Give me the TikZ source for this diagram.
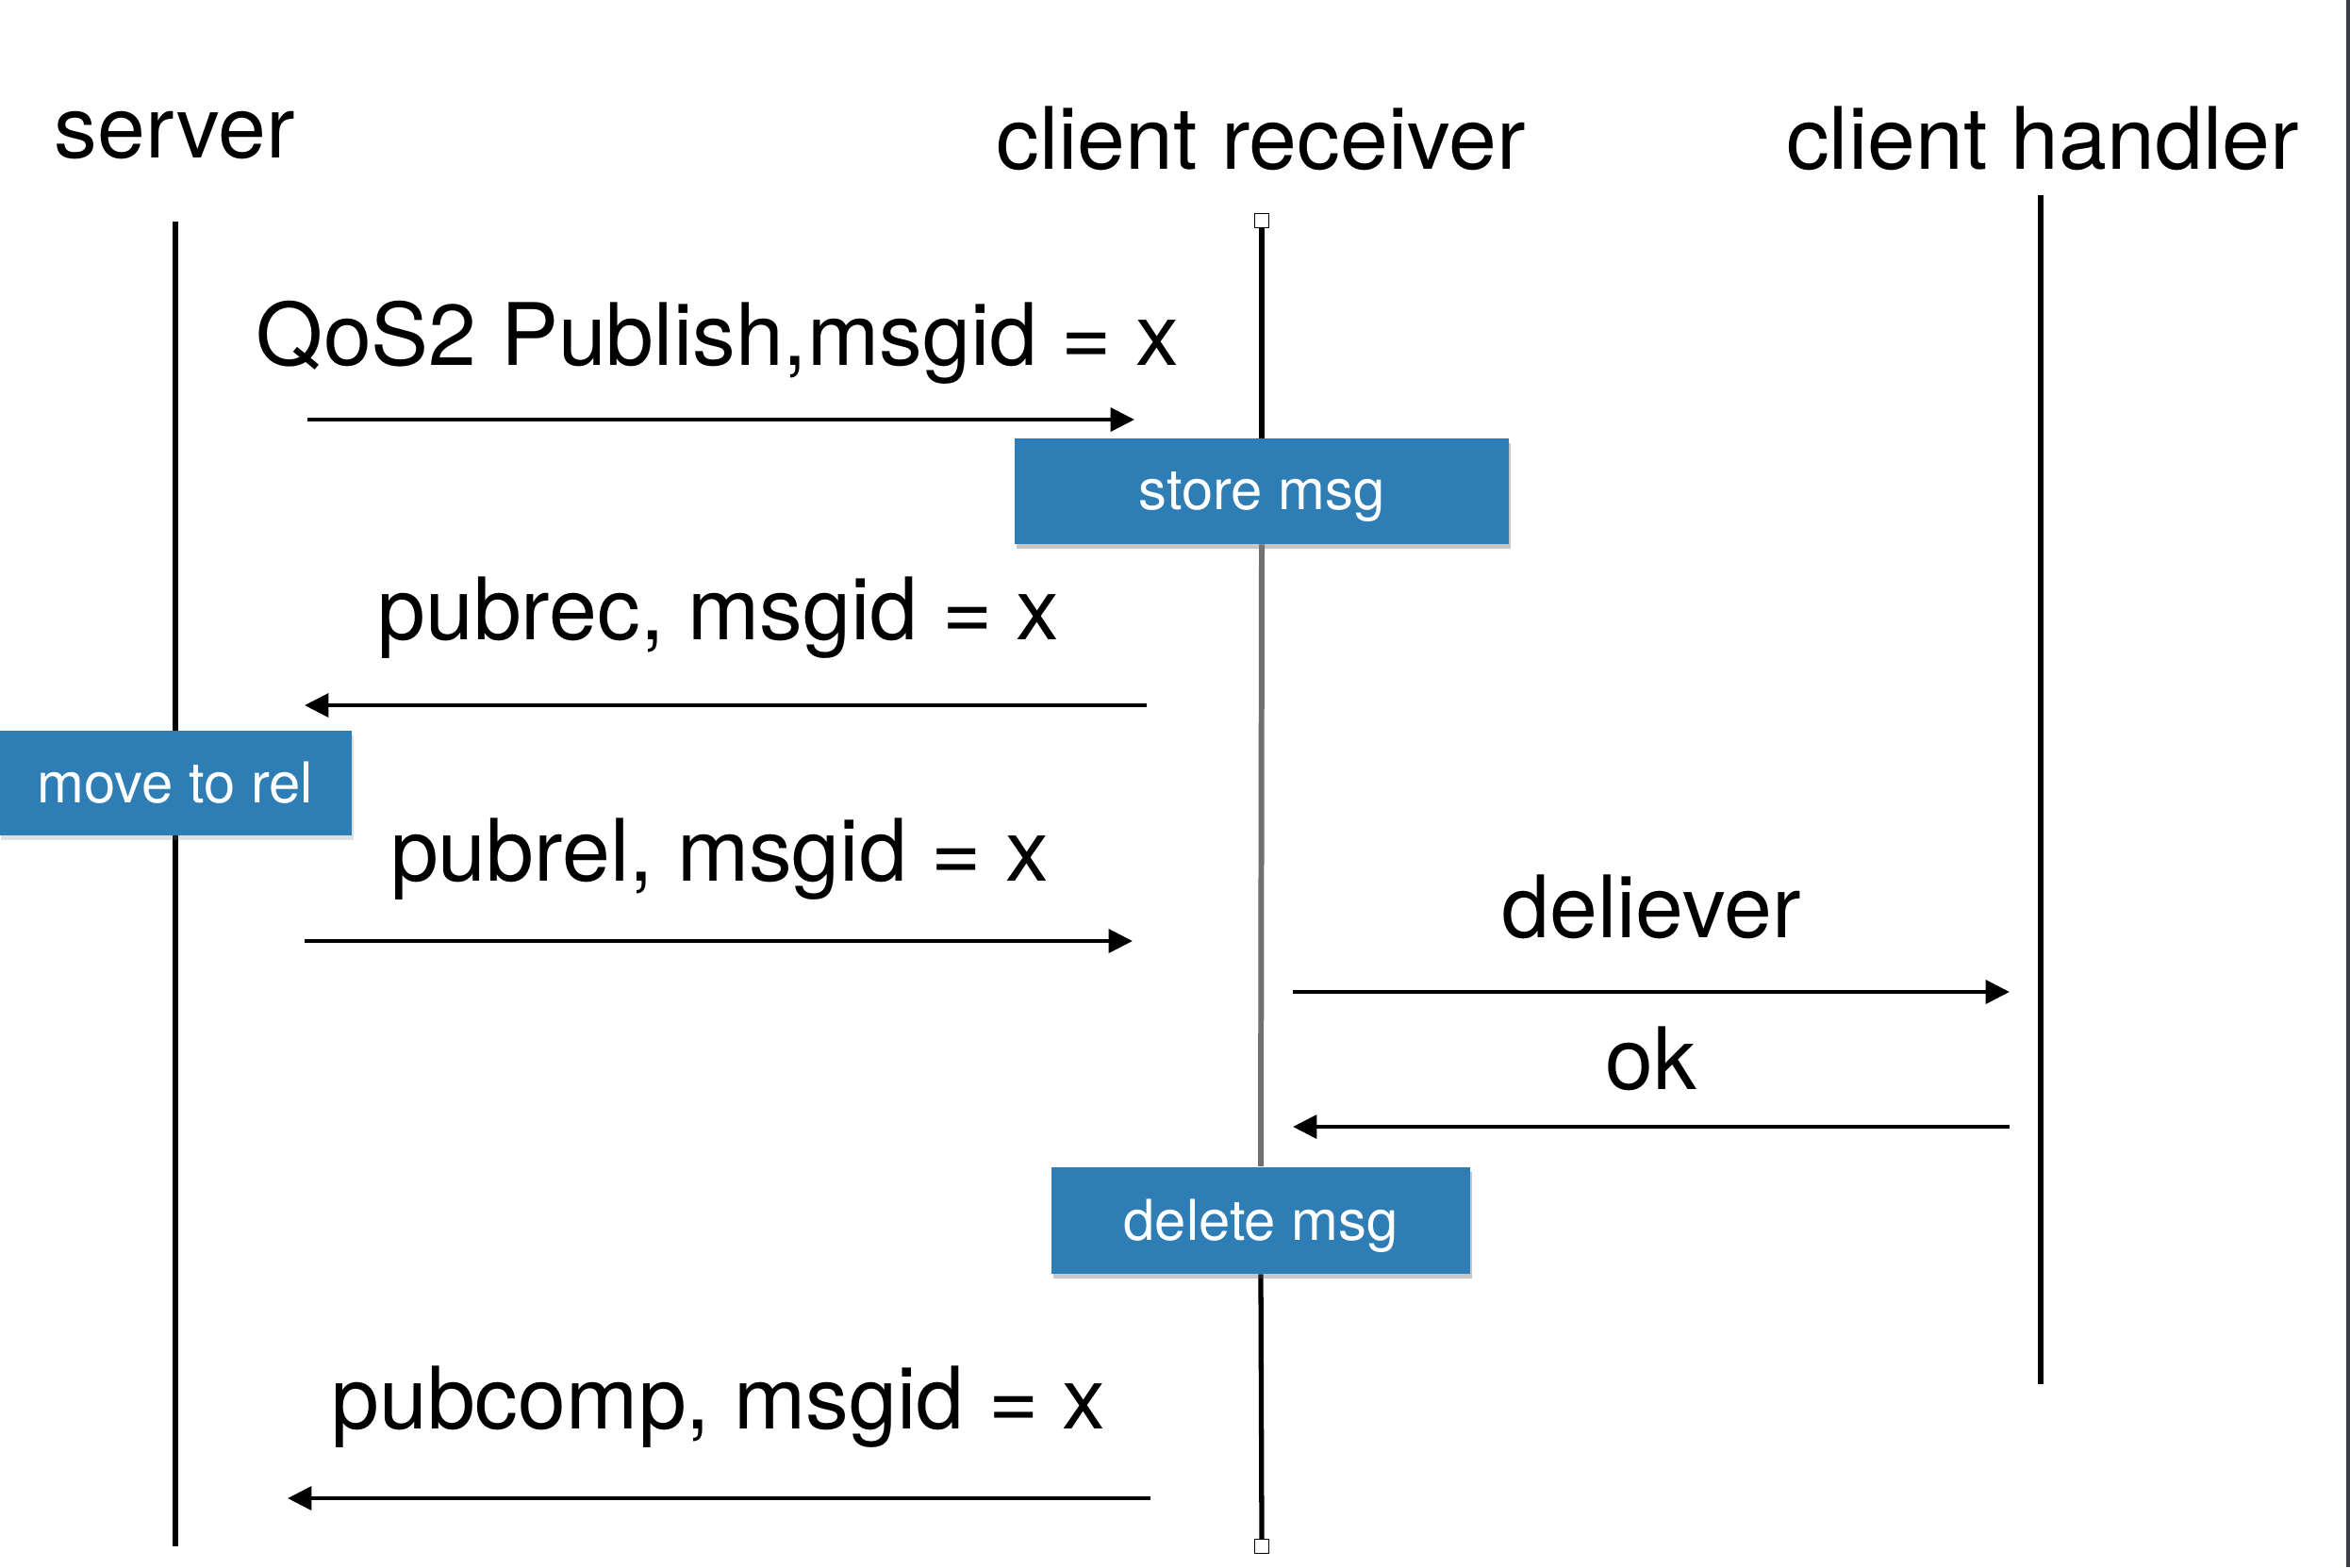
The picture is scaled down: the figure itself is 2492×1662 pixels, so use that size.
\documentclass[tikz,border=0pt]{standalone}
\usepackage{fontspec}
\setmainfont{TeX Gyre Heros}
\usetikzlibrary{arrows.meta,shadows}
\definecolor{boxblue}{HTML}{2E7DB4}
\definecolor{midgray}{HTML}{707070}
\definecolor{edgegray}{HTML}{3C3C46}
\tikzset{
  lifeline/.style={line width=1.5pt,black},
  msgarrow/.style={line width=1.3pt,-{Triangle[length=7.2pt,width=7pt]}},
  msglabel/.style={anchor=base,inner sep=0pt,font=\fontsize{26}{30}\selectfont},
  header/.style={anchor=base,inner sep=0pt,font=\fontsize{26}{30}\selectfont},
  actionbox/.style={fill=boxblue,text=white,inner sep=0pt,text depth=0pt,
    font=\fontsize{17}{20}\selectfont,
    drop shadow={shadow xshift=0.02cm,shadow yshift=-0.05cm,opacity=0.25}},
  endsquare/.style={draw=black,fill=white,line width=0.4pt,minimum size=4.2pt,inner sep=0pt}
}
\begin{document}
\begin{tikzpicture}[x=0.01cm,y=-0.01cm]
\useasboundingbox (0,0) rectangle (2492,1662);
\fill[white] (0,0) rectangle (2492,1662);
\draw[edgegray,line width=0.9pt] (2490,0) -- (2490,1662);

% headers
\node[header] (hserver) at (185,167) {server};
\node[header] (hrecv) at (1337,179) {client receiver};
\node[header] (hhand) at (2166,179) {client handler};

% lifeline end points
\coordinate (s1) at (186,235);
\coordinate (s2) at (186,1640);
\coordinate (h1) at (2164,207);
\coordinate (h2) at (2164,1468);

% action boxes (positions)
\node[actionbox,minimum width=5.23cm,minimum height=1.11cm] (store) at (1338,521) {store msg};
\node[actionbox,minimum width=4.44cm,minimum height=1.13cm] (delete) at (1337,1294) {delete msg};

% server & handler lifelines
\draw[lifeline] (s1) -- (s2);
\draw[lifeline] (h1) -- (h2);

% receiver lifeline
\node[endsquare] (rtop) at (1338,234) {};
\node[endsquare] (rbot) at (1338,1640) {};
\draw[lifeline] (rtop.south) -- (store.north);
\draw[line width=1.7pt,midgray] (store.south) -- (delete.north);
\draw[lifeline] (delete.south) -- (rbot.north);

% re-draw boxes on top
\node[actionbox,minimum width=5.23cm,minimum height=1.11cm] at (store) {store msg};
\node[actionbox,minimum width=4.44cm,minimum height=1.13cm] at (delete) {delete msg};
\node[actionbox,minimum width=3.73cm,minimum height=1.11cm] (moverel) at (186,830) {move to rel};

% arrow coordinates
\coordinate (a1s) at (326,445);  \coordinate (a1e) at (1203,445);
\coordinate (a2s) at (1216,748); \coordinate (a2e) at (323,748);
\coordinate (a3s) at (323,998);  \coordinate (a3e) at (1201,998);
\coordinate (a4s) at (1371,1052);\coordinate (a4e) at (2131,1052);
\coordinate (a5s) at (2131,1195);\coordinate (a5e) at (1371,1195);
\coordinate (a6s) at (1220,1589);\coordinate (a6e) at (305,1589);

\draw[msgarrow] (a1s) -- (a1e);
\draw[msgarrow] (a2s) -- (a2e);
\draw[msgarrow] (a3s) -- (a3e);
\draw[msgarrow] (a4s) -- (a4e);
\draw[msgarrow] (a5s) -- (a5e);
\draw[msgarrow] (a6s) -- (a6e);

% labels
\node[msglabel] (l1) at (761,387) {QoS2 Publish,msgid = x};
\node[msglabel] (l2) at (762,678) {pubrec, msgid = x};
\node[msglabel] (l3) at (763,934) {pubrel, msgid = x};
\node[msglabel] (l4) at (1751,994) {deliever};
\node[msglabel] (l5) at (1751,1155) {ok};
\node[msglabel] (l6) at (762,1515) {pubcomp, msgid = x};
\end{tikzpicture}
\end{document}
